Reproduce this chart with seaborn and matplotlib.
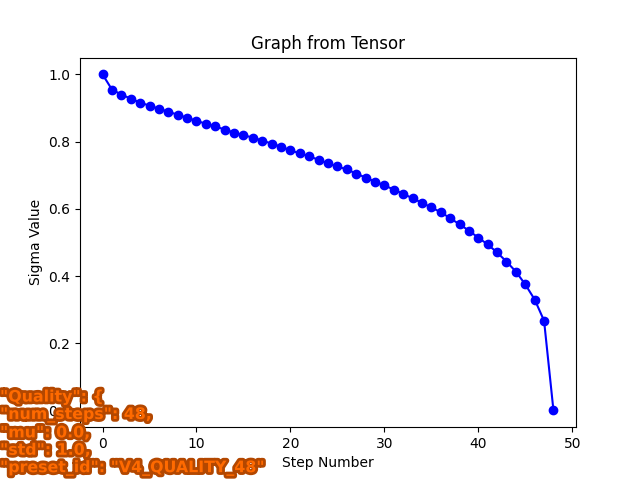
import numpy as np
import pandas as pd
import seaborn as sns
import matplotlib
matplotlib.use('Agg')
import matplotlib.pyplot as plt
import matplotlib.patheffects as pe

# valores
passos = list(range(49))
sigmas = [
    1.000, 0.955, 0.940, 0.928, 0.916, 0.907, 0.898, 0.889, 0.880, 0.871,
    0.862, 0.853, 0.845, 0.836, 0.827, 0.819, 0.812, 0.803, 0.794, 0.785,
    0.774, 0.765, 0.756, 0.746, 0.735, 0.726, 0.717, 0.705, 0.693, 0.681,
    0.670, 0.657, 0.645, 0.631, 0.618, 0.604, 0.590, 0.572, 0.554, 0.535,
    0.514, 0.494, 0.470, 0.443, 0.413, 0.375, 0.330, 0.267, 0.000,
]
texto_preset = [
    '"Quality": {',
    '"num_steps": 48,',
    '"mu": 0.0,',
    '"std": 1.0,',
    '"preset_id": "V4_QUALITY_48"',
]

df = pd.DataFrame({'passo': passos, 'sigma': sigmas})

fig, ax = plt.subplots(figsize=(6.4, 4.8), dpi=100)
sns.lineplot(data=df, x='passo', y='sigma', ax=ax, color='blue', marker='o',
             markersize=6, markeredgecolor='blue', markeredgewidth=1, linewidth=1.5)
ax.set_title('Graph from Tensor')
ax.set_xlabel('Step Number')
ax.set_ylabel('Sigma Value')

fig.text(0.0, 0.008, '\n'.join(texto_preset), ha='left', va='bottom',
         fontsize=11.4, fontweight='heavy', color='#ff6a00', linespacing=1.2,
         path_effects=[pe.withStroke(linewidth=4, foreground='#b34700')])

fig.savefig('out.png', dpi=100)
